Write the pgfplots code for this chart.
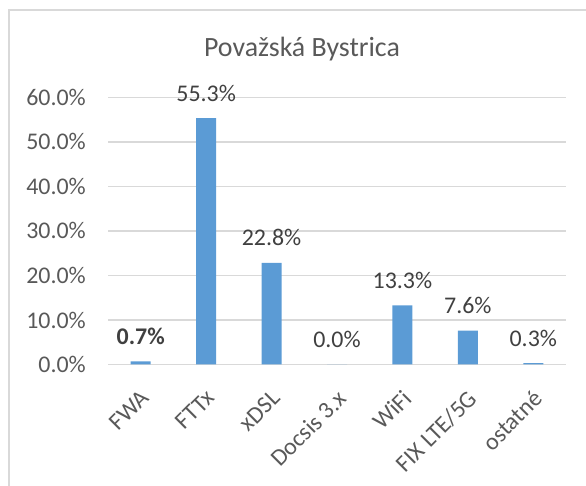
\documentclass[border=0pt]{standalone}
\usepackage{fontspec}
\setmainfont{Carlito}
\usepackage{pgfplots}
\pgfplotsset{compat=1.18}
\definecolor{barblue}{HTML}{5B9BD5}
\definecolor{txt}{HTML}{595959}
\definecolor{lbl}{HTML}{404040}
\definecolor{gridc}{HTML}{D9D9D9}
\begin{document}
\begin{tikzpicture}[x=1bp,y=1bp]
\useasboundingbox (0,0) rectangle (586,486);
\begin{scope}
\clip (0,0) rectangle (586,486);
\draw[gridc, line width=2bp] (9,-5) -- (9,476) -- (600,476);
\end{scope}
\node[anchor=base, text=txt, font=\fontsize{28}{34}\selectfont, inner sep=0] at (302,429) {Považská Bystrica};
\begin{axis}[
  at={(108bp,121.5bp)}, anchor=south west,
  scale only axis, width=458bp, height=267.2bp,
  xmin=-0.5, xmax=6.5, ymin=0, ymax=60,
  axis line style={draw=none},
  /pgf/number format/assume math mode=true,
  ytick={0,10,...,60},
  yticklabel={\pgfmathprintnumber[fixed,fixed zerofill,precision=1]{\tick}\%},
  ymajorgrids, major grid style={gridc, line width=1.5bp},
  xtick={0,...,6},
  xticklabels={FWA,FTTx,xDSL,Docsis 3.x,WiFi,FIX LTE/5G,ostatné},
  major tick length=0,
  tick label style={text=txt, font=\fontsize{24}{28}\selectfont, inner sep=0},
  yticklabel style={anchor=east, xshift=-22bp},
  xticklabel style={xshift=-1bp, yshift=-24bp, rotate=45, anchor=north east},
  ybar, bar width=20bp,
  nodes near coords, point meta=explicit symbolic,
  every node near coord/.append style={anchor=base, inner sep=0, yshift=17bp, text=lbl, font=\fontsize{24}{28}\selectfont},
  clip=false,
]
\addplot[fill=barblue, draw=none] coordinates {
  (0,0.7) [\textbf{0.7\%}]
  (1,55.3) [55.3\%]
  (2,22.8) [22.8\%]
  (3,0.0) [0.0\%]
  (4,13.3) [13.3\%]
  (5,7.6) [7.6\%]
  (6,0.3) [0.3\%]
};
\end{axis}
\end{tikzpicture}
\end{document}
